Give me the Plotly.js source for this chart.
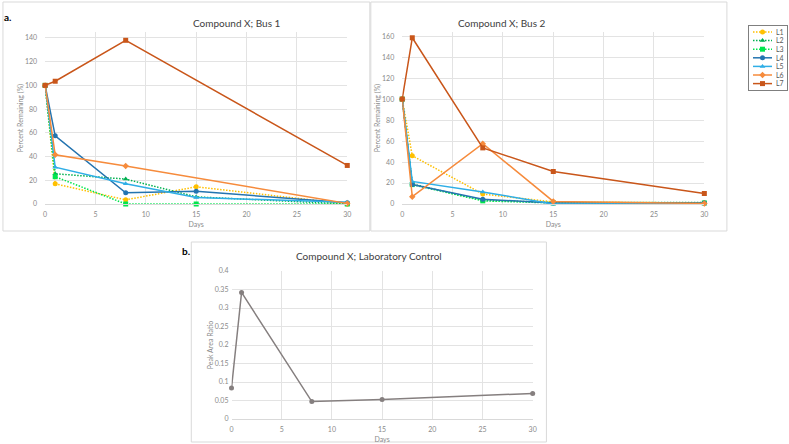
<!DOCTYPE html>
<html>
<head>
<meta charset="utf-8">
<script src="https://cdn.plot.ly/plotly-3.0.1.min.js"></script>
<style>html,body{margin:0;padding:0;background:#fff;}#chart{width:789px;height:444px;}</style>
</head>
<body>
<div id="chart"></div>
<script>
// ---- data ----
const days = [0, 1, 8, 15, 30];
const seriesNames = ['L1', 'L2', 'L3', 'L4', 'L5', 'L6', 'L7'];

// Compound X; Bus 1 (percent remaining)
const bus1_L1 = [100, 17, 3.5, 14.5, 0];
const bus1_L2 = [100, 25.5, 21, 6, 0];
const bus1_L3 = [100, 23, 0, 0, 0];
const bus1_L4 = [100, 57.5, 9.5, 10.8, 1];
const bus1_L5 = [100, 31, 17, 5.4, 1.5];
const bus1_L6 = [100, 41.5, 32, null, 0.5];
const bus1_L7 = [100, 103.5, 138, null, 32.5];

// Compound X; Bus 2 (percent remaining)
const bus2_L1 = [100, 46, 9.5, 2, 1];
const bus2_L2 = [100, 19, 3.5, 1.5, 1.5];
const bus2_L3 = [100, 18.5, 3, 1, 1];
const bus2_L4 = [100, 18.5, 4.5, 1, 1];
const bus2_L5 = [100, 21.5, 11.5, 0, 0];
const bus2_L6 = [100, 7, 57.5, 2.5, 0.5];
const bus2_L7 = [100, 158.5, 53.5, 31, 10];

// Compound X; Laboratory Control (peak area ratio)
const control = [0.084, 0.342, 0.047, 0.053, 0.069];

const xTicks = [0, 5, 10, 15, 20, 25, 30];

// ---- styles ----
const DOT = '1.5px,1.5px';
const styles = [
  {color: '#FFC000', dash: DOT, symbol: 'circle'},
  {color: '#00B050', dash: DOT, symbol: 'triangle-up'},
  {color: '#00E64D', dash: DOT, symbol: 'square'},
  {color: '#2474B0', dash: 'solid', symbol: 'circle'},
  {color: '#2FAEE6', dash: 'solid', symbol: 'triangle-up'},
  {color: '#F68B3C', dash: 'solid', symbol: 'diamond'},
  {color: '#C9561A', dash: 'solid', symbol: 'square'}
];
const bus1 = [bus1_L1, bus1_L2, bus1_L3, bus1_L4, bus1_L5, bus1_L6, bus1_L7];
const bus2 = [bus2_L1, bus2_L2, bus2_L3, bus2_L4, bus2_L5, bus2_L6, bus2_L7];

const traces = [];
bus1.forEach((ys, i) => traces.push({
  x: days, y: ys, name: seriesNames[i], legendgroup: seriesNames[i],
  type: 'scatter', mode: 'lines+markers', connectgaps: true, cliponaxis: false,
  xaxis: 'x', yaxis: 'y',
  line: {color: styles[i].color, width: 1.5, dash: styles[i].dash},
  marker: {color: styles[i].color, symbol: styles[i].symbol, size: 5}
}));
bus2.forEach((ys, i) => traces.push({
  x: days, y: ys, name: seriesNames[i], legendgroup: seriesNames[i], showlegend: false,
  type: 'scatter', mode: 'lines+markers', connectgaps: true, cliponaxis: false,
  xaxis: 'x2', yaxis: 'y2',
  line: {color: styles[i].color, width: 1.5, dash: styles[i].dash},
  marker: {color: styles[i].color, symbol: styles[i].symbol, size: 5}
}));
traces.push({
  x: days, y: control, name: 'Control', showlegend: false,
  type: 'scatter', mode: 'lines+markers', cliponaxis: false, xaxis: 'x3', yaxis: 'y3',
  line: {color: '#857F7F', width: 1.5},
  marker: {color: '#857F7F', symbol: 'circle', size: 5}
});

const W = 789, H = 444;
const px = v => v / W;
const py = v => 1 - v / H;

const font = 'Lato, "Open Sans", "Liberation Sans", sans-serif';
const tickFont = {family: font, size: 7, color: '#8a8a8a'};
const axTitleFont = {family: font, size: 7, color: '#8a8a8a'};
const gridC = '#e3e3e3';

function xax(domain, anchor) {
  return {domain: domain, anchor: anchor, range: [0, 30], tickvals: xTicks,
    showgrid: true, gridcolor: gridC, gridwidth: 1, zeroline: false,
    showline: true, linecolor: '#d9d9d9', linewidth: 1, ticks: '',
    ticklabelstandoff: 4,
    tickfont: tickFont, fixedrange: true,
    title: {text: 'Days', font: axTitleFont, standoff: 4}};
}
function yax(domain, anchor, range, dtick, title, lblOff) {
  return {domain: domain, anchor: anchor, range: range, dtick: dtick, tick0: 0,
    showgrid: true, gridcolor: gridC, gridwidth: 1, zeroline: false,
    showline: false, ticks: '', tickfont: tickFont, fixedrange: true,
    ticklabelstandoff: lblOff,
    title: {text: title, font: axTitleFont, standoff: 0}};
}

const layout = {
  width: W, height: H, margin: {l: 0, r: 0, t: 0, b: 0},
  paper_bgcolor: '#ffffff', plot_bgcolor: '#ffffff',
  font: {family: font},
  showlegend: true,
  legend: {x: px(748), y: py(25), xanchor: 'left', yanchor: 'top',
    bordercolor: '#7f7f7f', borderwidth: 1, bgcolor: '#ffffff',
    font: {family: font, size: 7, color: '#595959'},
    itemwidth: 30, tracegroupgap: 0},
  xaxis: xax([px(46), px(354)], 'y'),
  yaxis: yax([py(204), py(32)], 'x', [0, 145], 20, 'Percent Remaining (%)', 7),
  xaxis2: xax([px(410), px(718)], 'y2'),
  yaxis2: yax([py(204), py(32)], 'x2', [0, 164], 20, 'Percent Remaining (%)', 7),
  xaxis3: xax([px(236), px(543)], 'y3'),
  yaxis3: yax([py(419), py(271)], 'x3', [0, 0.4], 0.05, 'Peak Area Ratio', 2),
  shapes: [
    {type: 'rect', xref: 'paper', yref: 'paper', x0: px(3), x1: px(377), y0: py(231), y1: py(2),
      line: {color: '#d9d9d9', width: 1}},
    {type: 'rect', xref: 'paper', yref: 'paper', x0: px(378), x1: px(741), y0: py(231), y1: py(2),
      line: {color: '#d9d9d9', width: 1}},
    {type: 'rect', xref: 'paper', yref: 'paper', x0: px(195), x1: px(557), y0: py(442), y1: py(242),
      line: {color: '#d9d9d9', width: 1}}
  ],
  annotations: [
    {text: 'Compound X; Bus 1', x: px(195), y: py(15), xref: 'paper', yref: 'paper',
      showarrow: false, font: {family: font, size: 10, color: '#404040'}},
    {text: 'Compound X; Bus 2', x: px(559), y: py(15), xref: 'paper', yref: 'paper',
      showarrow: false, font: {family: font, size: 10, color: '#404040'}},
    {text: 'Compound X; Laboratory Control', x: px(376), y: py(256), xref: 'paper', yref: 'paper',
      showarrow: false, font: {family: font, size: 10, color: '#404040'}},
    {text: '<b>a.</b>', x: px(2), y: py(9), xref: 'paper', yref: 'paper', xanchor: 'left',
      showarrow: false, font: {family: font, size: 10, color: '#000000'}},
    {text: '<b>b.</b>', x: px(183), y: py(251), xref: 'paper', yref: 'paper', xanchor: 'left',
      showarrow: false, font: {family: font, size: 10, color: '#000000'}}
  ]
};

Plotly.newPlot('chart', traces, layout, {displayModeBar: false, staticPlot: true}).then(gd => {
  // compact the legend entries to match the reference's tight spacing
  const leg = gd.querySelector('.legend');
  if (!leg) return;
  const sp = 8.6;
  const items = leg.querySelectorAll('.traces');
  items.forEach((it, i) => {
    const m = /translate\(\s*([-\d.]+)[ ,]+([-\d.]+)/.exec(it.getAttribute('transform') || '');
    const x0 = m ? parseFloat(m[1]) : 1;
    it.setAttribute('transform', 'translate(' + x0 + ',' + (7 + i * sp) + ')');
    it.querySelectorAll('.legendlines path').forEach(p => p.setAttribute('d', 'M4,0h19'));
    it.querySelectorAll('.legendsymbols .scatterpts').forEach(p => {
      const t = p.getAttribute('transform') || '';
      p.setAttribute('transform', t.replace(/translate\([^)]*\)/, 'translate(13.5,0)') || 'translate(13.5,0)');
    });
    const txt = it.querySelector('.legendtext');
    if (txt) txt.setAttribute('x', 27);
    const tg = it.querySelector('.legendtoggle');
    if (tg) { tg.setAttribute('height', sp); tg.setAttribute('y', -sp / 2); tg.setAttribute('width', 38); }
  });
  const bg = leg.querySelector('.bg');
  if (bg) { bg.setAttribute('width', 39); bg.setAttribute('height', items.length * sp + 5); }
  leg.setAttribute('transform', 'translate(748,25)');
});
</script>
</body>
</html>
